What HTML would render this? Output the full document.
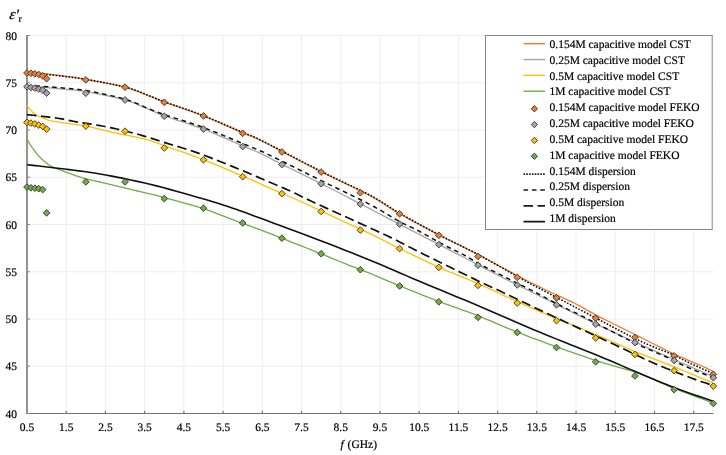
<!DOCTYPE html>
<html><head><meta charset="utf-8"><style>
html,body{margin:0;padding:0;background:#fff;}
body{width:726px;height:455px;overflow:hidden;}
svg{display:block;will-change:transform;}
.t{text-rendering:geometricPrecision;font-family:"Liberation Serif",serif;font-size:11.5px;fill:#000;stroke:#000;stroke-width:0.2px;}
</style></head><body>
<svg width="726" height="455" viewBox="0 0 726 455">
<rect width="726" height="455" fill="#fff"/>
<line x1="27" y1="35.50" x2="713.5" y2="35.50" stroke="#EEEEEE" stroke-width="1"/>
<line x1="27" y1="82.75" x2="713.5" y2="82.75" stroke="#EEEEEE" stroke-width="1"/>
<line x1="27" y1="130.00" x2="713.5" y2="130.00" stroke="#EEEEEE" stroke-width="1"/>
<line x1="27" y1="177.25" x2="713.5" y2="177.25" stroke="#EEEEEE" stroke-width="1"/>
<line x1="27" y1="224.50" x2="713.5" y2="224.50" stroke="#EEEEEE" stroke-width="1"/>
<line x1="27" y1="271.75" x2="713.5" y2="271.75" stroke="#EEEEEE" stroke-width="1"/>
<line x1="27" y1="319.00" x2="713.5" y2="319.00" stroke="#EEEEEE" stroke-width="1"/>
<line x1="27" y1="366.25" x2="713.5" y2="366.25" stroke="#EEEEEE" stroke-width="1"/>
<line x1="66.22" y1="35.5" x2="66.22" y2="413.5" stroke="#EEEEEE" stroke-width="1"/>
<line x1="105.44" y1="35.5" x2="105.44" y2="413.5" stroke="#EEEEEE" stroke-width="1"/>
<line x1="144.66" y1="35.5" x2="144.66" y2="413.5" stroke="#EEEEEE" stroke-width="1"/>
<line x1="183.88" y1="35.5" x2="183.88" y2="413.5" stroke="#EEEEEE" stroke-width="1"/>
<line x1="223.10" y1="35.5" x2="223.10" y2="413.5" stroke="#EEEEEE" stroke-width="1"/>
<line x1="262.32" y1="35.5" x2="262.32" y2="413.5" stroke="#EEEEEE" stroke-width="1"/>
<line x1="301.54" y1="35.5" x2="301.54" y2="413.5" stroke="#EEEEEE" stroke-width="1"/>
<line x1="340.76" y1="35.5" x2="340.76" y2="413.5" stroke="#EEEEEE" stroke-width="1"/>
<line x1="379.98" y1="35.5" x2="379.98" y2="413.5" stroke="#EEEEEE" stroke-width="1"/>
<line x1="419.20" y1="35.5" x2="419.20" y2="413.5" stroke="#EEEEEE" stroke-width="1"/>
<line x1="458.42" y1="35.5" x2="458.42" y2="413.5" stroke="#EEEEEE" stroke-width="1"/>
<line x1="497.64" y1="35.5" x2="497.64" y2="413.5" stroke="#EEEEEE" stroke-width="1"/>
<line x1="536.86" y1="35.5" x2="536.86" y2="413.5" stroke="#EEEEEE" stroke-width="1"/>
<line x1="576.08" y1="35.5" x2="576.08" y2="413.5" stroke="#EEEEEE" stroke-width="1"/>
<line x1="615.30" y1="35.5" x2="615.30" y2="413.5" stroke="#EEEEEE" stroke-width="1"/>
<line x1="654.52" y1="35.5" x2="654.52" y2="413.5" stroke="#EEEEEE" stroke-width="1"/>
<line x1="693.74" y1="35.5" x2="693.74" y2="413.5" stroke="#EEEEEE" stroke-width="1"/>
<rect x="26" y="35" width="2" height="379" fill="#939393"/>
<rect x="26" y="413" width="687.5" height="1" fill="#747474"/>
<line x1="27" y1="35.50" x2="30" y2="35.50" stroke="#8A8A8A" stroke-width="1"/>
<line x1="27" y1="82.75" x2="30" y2="82.75" stroke="#8A8A8A" stroke-width="1"/>
<line x1="27" y1="130.00" x2="30" y2="130.00" stroke="#8A8A8A" stroke-width="1"/>
<line x1="27" y1="177.25" x2="30" y2="177.25" stroke="#8A8A8A" stroke-width="1"/>
<line x1="27" y1="224.50" x2="30" y2="224.50" stroke="#8A8A8A" stroke-width="1"/>
<line x1="27" y1="271.75" x2="30" y2="271.75" stroke="#8A8A8A" stroke-width="1"/>
<line x1="27" y1="319.00" x2="30" y2="319.00" stroke="#8A8A8A" stroke-width="1"/>
<line x1="27" y1="366.25" x2="30" y2="366.25" stroke="#8A8A8A" stroke-width="1"/>
<line x1="27" y1="413.50" x2="30" y2="413.50" stroke="#8A8A8A" stroke-width="1"/>
<line x1="66.22" y1="410.8" x2="66.22" y2="413" stroke="#7A7A7A" stroke-width="1.2"/>
<line x1="105.44" y1="410.8" x2="105.44" y2="413" stroke="#7A7A7A" stroke-width="1.2"/>
<line x1="144.66" y1="410.8" x2="144.66" y2="413" stroke="#7A7A7A" stroke-width="1.2"/>
<line x1="183.88" y1="410.8" x2="183.88" y2="413" stroke="#7A7A7A" stroke-width="1.2"/>
<line x1="223.10" y1="410.8" x2="223.10" y2="413" stroke="#7A7A7A" stroke-width="1.2"/>
<line x1="262.32" y1="410.8" x2="262.32" y2="413" stroke="#7A7A7A" stroke-width="1.2"/>
<line x1="301.54" y1="410.8" x2="301.54" y2="413" stroke="#7A7A7A" stroke-width="1.2"/>
<line x1="340.76" y1="410.8" x2="340.76" y2="413" stroke="#7A7A7A" stroke-width="1.2"/>
<line x1="379.98" y1="410.8" x2="379.98" y2="413" stroke="#7A7A7A" stroke-width="1.2"/>
<line x1="419.20" y1="410.8" x2="419.20" y2="413" stroke="#7A7A7A" stroke-width="1.2"/>
<line x1="458.42" y1="410.8" x2="458.42" y2="413" stroke="#7A7A7A" stroke-width="1.2"/>
<line x1="497.64" y1="410.8" x2="497.64" y2="413" stroke="#7A7A7A" stroke-width="1.2"/>
<line x1="536.86" y1="410.8" x2="536.86" y2="413" stroke="#7A7A7A" stroke-width="1.2"/>
<line x1="576.08" y1="410.8" x2="576.08" y2="413" stroke="#7A7A7A" stroke-width="1.2"/>
<line x1="615.30" y1="410.8" x2="615.30" y2="413" stroke="#7A7A7A" stroke-width="1.2"/>
<line x1="654.52" y1="410.8" x2="654.52" y2="413" stroke="#7A7A7A" stroke-width="1.2"/>
<line x1="693.74" y1="410.8" x2="693.74" y2="413" stroke="#7A7A7A" stroke-width="1.2"/>
<path d="M27.00,73.00 L28.58,73.02 L30.09,73.03 L31.57,73.03 L33.06,73.03 L34.61,73.05 L36.26,73.09 L38.04,73.17 L40.00,73.30 L42.12,73.47 L44.37,73.67 L46.72,73.91 L49.19,74.17 L51.75,74.46 L54.41,74.78 L57.17,75.13 L60.00,75.50 L62.87,75.89 L65.77,76.28 L68.74,76.70 L71.81,77.15 L75.03,77.64 L78.45,78.19 L82.09,78.81 L86.00,79.50 L90.35,80.28 L95.16,81.15 L100.29,82.09 L105.56,83.09 L110.83,84.12 L115.93,85.18 L120.71,86.24 L125.00,87.30 L128.87,88.39 L132.49,89.54 L135.88,90.73 L139.06,91.93 L142.05,93.11 L144.85,94.25 L147.50,95.32 L150.00,96.30 L152.11,97.12 L153.69,97.77 L154.96,98.32 L156.12,98.85 L157.40,99.41 L159.00,100.08 L161.13,100.92 L164.00,102.00 L167.67,103.31 L171.97,104.80 L176.75,106.43 L181.88,108.18 L187.20,110.02 L192.59,111.92 L197.91,113.86 L203.00,115.80 L208.11,117.86 L213.47,120.10 L218.94,122.44 L224.38,124.81 L229.64,127.13 L234.59,129.32 L239.09,131.31 L243.00,133.00 L246.19,134.35 L248.75,135.41 L250.84,136.25 L252.62,136.97 L254.27,137.64 L255.94,138.35 L257.79,139.17 L260.00,140.20 L262.39,141.35 L264.75,142.53 L267.14,143.74 L269.62,145.03 L272.29,146.42 L275.19,147.95 L278.40,149.63 L282.00,151.50 L285.99,153.58 L290.32,155.86 L294.94,158.30 L299.81,160.86 L304.90,163.53 L310.15,166.26 L315.53,169.03 L321.00,171.80 L326.78,174.66 L333.02,177.66 L339.52,180.77 L346.12,183.91 L352.65,187.03 L358.92,190.07 L364.76,192.98 L370.00,195.70 L374.51,198.19 L378.40,200.49 L381.86,202.66 L385.06,204.75 L388.20,206.82 L391.45,208.93 L394.99,211.14 L399.00,213.50 L403.48,216.02 L408.25,218.66 L413.24,221.38 L418.38,224.14 L423.59,226.92 L428.81,229.68 L433.97,232.38 L439.00,235.00 L443.92,237.52 L448.82,239.98 L453.70,242.39 L458.56,244.78 L463.42,247.17 L468.27,249.57 L473.13,252.00 L478.00,254.50 L482.94,257.10 L487.98,259.80 L493.06,262.55 L498.12,265.31 L503.11,268.04 L507.95,270.67 L512.60,273.18 L517.00,275.50 L521.10,277.63 L524.95,279.61 L528.61,281.46 L532.12,283.22 L535.56,284.92 L538.98,286.60 L542.44,288.28 L546.00,290.00 L549.68,291.75 L553.44,293.49 L557.23,295.22 L561.00,296.94 L564.71,298.63 L568.31,300.29 L571.76,301.92 L575.00,303.50 L577.88,304.98 L580.39,306.33 L582.67,307.61 L584.88,308.88 L587.16,310.19 L589.67,311.61 L592.57,313.19 L596.00,315.00 L600.02,317.06 L604.51,319.32 L609.35,321.75 L614.44,324.28 L619.66,326.87 L624.90,329.47 L630.05,332.03 L635.00,334.50 L639.87,336.95 L644.83,339.46 L649.81,341.98 L654.75,344.49 L659.60,346.93 L664.30,349.28 L668.78,351.48 L673.00,353.50 L677.00,355.35 L680.85,357.07 L684.55,358.66 L688.06,360.15 L691.38,361.54 L694.49,362.83 L697.37,364.05 L700.00,365.20 L702.29,366.24 L704.23,367.14 L705.90,367.93 L707.38,368.64 L708.74,369.32 L710.08,369.98 L711.47,370.66 L713.00,371.40" fill="none" stroke="#ED7D31" stroke-width="1.3" stroke-linejoin="round"/>
<path d="M27.00,86.00 L28.58,86.12 L30.09,86.23 L31.57,86.34 L33.06,86.45 L34.61,86.57 L36.26,86.69 L38.04,86.84 L40.00,87.00 L42.12,87.18 L44.37,87.37 L46.72,87.57 L49.19,87.79 L51.75,88.02 L54.41,88.26 L57.17,88.52 L60.00,88.80 L62.87,89.06 L65.77,89.30 L68.74,89.53 L71.81,89.79 L75.03,90.10 L78.45,90.48 L82.09,90.98 L86.00,91.60 L90.35,92.37 L95.16,93.27 L100.29,94.28 L105.56,95.36 L110.83,96.50 L115.93,97.67 L120.71,98.84 L125.00,100.00 L128.87,101.18 L132.49,102.44 L135.88,103.74 L139.06,105.05 L142.05,106.34 L144.85,107.58 L147.50,108.75 L150.00,109.80 L152.11,110.68 L153.69,111.40 L154.96,112.01 L156.12,112.59 L157.40,113.19 L159.00,113.88 L161.13,114.73 L164.00,115.80 L167.67,117.08 L171.97,118.50 L176.75,120.06 L181.88,121.71 L187.20,123.46 L192.59,125.26 L197.91,127.12 L203.00,129.00 L208.11,131.01 L213.47,133.21 L218.94,135.53 L224.38,137.88 L229.64,140.18 L234.59,142.36 L239.09,144.32 L243.00,146.00 L246.19,147.33 L248.75,148.38 L250.84,149.21 L252.62,149.91 L254.27,150.57 L255.94,151.27 L257.79,152.08 L260.00,153.10 L262.39,154.25 L264.75,155.42 L267.14,156.64 L269.62,157.94 L272.29,159.33 L275.19,160.83 L278.40,162.48 L282.00,164.30 L286.06,166.32 L290.55,168.54 L295.38,170.91 L300.44,173.40 L305.63,175.96 L310.85,178.54 L316.01,181.10 L321.00,183.60 L325.88,186.06 L330.75,188.54 L335.62,191.03 L340.50,193.53 L345.38,196.04 L350.25,198.56 L355.12,201.08 L360.00,203.60 L364.87,206.13 L369.73,208.67 L374.58,211.22 L379.44,213.77 L384.30,216.33 L389.18,218.88 L394.08,221.44 L399.00,224.00 L403.96,226.56 L408.95,229.12 L413.97,231.69 L419.00,234.26 L424.03,236.82 L429.05,239.39 L434.04,241.95 L439.00,244.50 L443.92,247.05 L448.82,249.60 L453.70,252.14 L458.56,254.68 L463.42,257.22 L468.27,259.75 L473.13,262.28 L478.00,264.80 L482.87,267.32 L487.73,269.83 L492.58,272.33 L497.44,274.83 L502.30,277.33 L507.18,279.82 L512.08,282.31 L517.00,284.80 L521.96,287.29 L526.95,289.77 L531.97,292.26 L537.00,294.74 L542.03,297.21 L547.05,299.68 L552.04,302.15 L557.00,304.60 L561.92,307.05 L566.82,309.51 L571.70,311.97 L576.56,314.41 L581.42,316.85 L586.27,319.26 L591.13,321.64 L596.00,324.00 L600.88,326.32 L605.75,328.61 L610.62,330.87 L615.50,333.12 L620.38,335.35 L625.25,337.57 L630.12,339.78 L635.00,342.00 L639.88,344.21 L644.75,346.42 L649.62,348.62 L654.50,350.81 L659.38,353.00 L664.25,355.17 L669.12,357.34 L674.00,359.50 L678.88,361.65 L683.75,363.79 L688.62,365.91 L693.50,368.03 L698.38,370.15 L703.25,372.26 L708.12,374.38 L713.00,376.50" fill="none" stroke="#A5A5A5" stroke-width="1.3" stroke-linejoin="round"/>
<path d="M27.00,105.50 L27.49,106.13 L27.96,106.76 L28.43,107.40 L28.91,108.03 L29.39,108.66 L29.89,109.29 L30.43,109.90 L31.00,110.50 L31.60,111.09 L32.20,111.68 L32.82,112.25 L33.47,112.83 L34.15,113.39 L34.88,113.94 L35.66,114.47 L36.50,115.00 L37.42,115.52 L38.43,116.03 L39.49,116.54 L40.59,117.03 L41.72,117.51 L42.84,117.96 L43.94,118.40 L45.00,118.80 L45.93,119.16 L46.71,119.48 L47.42,119.77 L48.16,120.04 L49.00,120.30 L50.03,120.58 L51.33,120.87 L53.00,121.20 L55.16,121.57 L57.77,121.98 L60.71,122.41 L63.81,122.85 L66.94,123.28 L69.95,123.69 L72.68,124.07 L75.00,124.40 L76.88,124.66 L78.45,124.87 L79.80,125.04 L81.00,125.19 L82.14,125.35 L83.30,125.52 L84.56,125.73 L86.00,126.00 L87.57,126.32 L89.15,126.67 L90.77,127.05 L92.44,127.46 L94.18,127.89 L96.01,128.34 L97.94,128.81 L100.00,129.30 L102.18,129.82 L104.46,130.37 L106.84,130.94 L109.31,131.54 L111.87,132.15 L114.51,132.76 L117.22,133.38 L120.00,134.00 L122.89,134.59 L125.90,135.16 L129.01,135.73 L132.19,136.31 L135.41,136.91 L138.63,137.57 L141.84,138.29 L145.00,139.10 L148.07,139.99 L151.06,140.93 L154.02,141.93 L157.00,142.98 L160.04,144.09 L163.19,145.24 L166.49,146.45 L170.00,147.70 L173.69,148.99 L177.52,150.31 L181.48,151.67 L185.56,153.09 L189.76,154.57 L194.07,156.12 L198.49,157.76 L203.00,159.50 L207.82,161.43 L213.05,163.57 L218.50,165.85 L224.00,168.18 L229.38,170.47 L234.45,172.64 L239.05,174.62 L243.00,176.30 L246.19,177.66 L248.75,178.76 L250.84,179.66 L252.62,180.44 L254.27,181.17 L255.94,181.91 L257.79,182.73 L260.00,183.70 L262.48,184.79 L265.05,185.93 L267.71,187.10 L270.44,188.31 L273.24,189.54 L276.10,190.81 L279.02,192.10 L282.00,193.40 L285.15,194.77 L288.52,196.23 L292.03,197.74 L295.56,199.26 L299.03,200.76 L302.32,202.19 L305.34,203.52 L308.00,204.70 L310.00,205.61 L311.32,206.24 L312.25,206.71 L313.06,207.14 L314.06,207.66 L315.52,208.39 L317.74,209.46 L321.00,211.00 L325.54,213.11 L331.19,215.71 L337.62,218.67 L344.50,221.83 L351.51,225.06 L358.31,228.21 L364.59,231.14 L370.00,233.70 L374.51,235.88 L378.40,237.82 L381.86,239.57 L385.06,241.23 L388.20,242.86 L391.45,244.53 L394.99,246.32 L399.00,248.30 L403.47,250.48 L408.20,252.78 L413.15,255.18 L418.25,257.64 L423.44,260.11 L428.67,262.57 L433.88,264.98 L439.00,267.30 L444.10,269.54 L449.27,271.73 L454.48,273.89 L459.69,276.03 L464.87,278.14 L470.01,280.26 L475.06,282.37 L480.00,284.50 L484.80,286.63 L489.46,288.76 L494.04,290.88 L498.56,292.99 L503.08,295.11 L507.63,297.23 L512.26,299.36 L517.00,301.50 L521.84,303.65 L526.72,305.80 L531.65,307.96 L536.62,310.12 L541.65,312.28 L546.72,314.45 L551.84,316.63 L557.00,318.80 L562.29,320.99 L567.73,323.21 L573.26,325.45 L578.81,327.68 L584.33,329.90 L589.74,332.08 L594.99,334.22 L600.00,336.30 L604.74,338.31 L609.24,340.27 L613.58,342.18 L617.81,344.06 L622.01,345.92 L626.23,347.77 L630.54,349.63 L635.00,351.50 L639.59,353.37 L644.24,355.21 L648.94,357.03 L653.69,358.86 L658.47,360.70 L663.29,362.56 L668.13,364.46 L673.00,366.40 L677.90,368.39 L682.86,370.43 L687.85,372.50 L692.88,374.59 L697.91,376.70 L702.95,378.81 L707.99,380.91 L713.00,383.00" fill="none" stroke="#FFC000" stroke-width="1.3" stroke-linejoin="round"/>
<path d="M27.00,138.80 L27.33,139.43 L27.66,140.05 L27.99,140.68 L28.31,141.31 L28.64,141.93 L28.98,142.56 L29.33,143.18 L29.70,143.80 L30.08,144.42 L30.48,145.04 L30.89,145.67 L31.31,146.29 L31.74,146.90 L32.16,147.51 L32.58,148.11 L33.00,148.70 L33.41,149.28 L33.83,149.85 L34.24,150.41 L34.65,150.96 L35.06,151.51 L35.48,152.05 L35.89,152.58 L36.30,153.10 L36.70,153.61 L37.10,154.11 L37.49,154.60 L37.88,155.08 L38.28,155.56 L38.70,156.04 L39.13,156.52 L39.60,157.00 L40.09,157.48 L40.60,157.96 L41.12,158.44 L41.66,158.92 L42.22,159.40 L42.80,159.89 L43.39,160.39 L44.00,160.90 L44.63,161.44 L45.30,162.00 L45.98,162.59 L46.67,163.18 L47.38,163.75 L48.09,164.31 L48.80,164.83 L49.50,165.30 L50.20,165.72 L50.90,166.11 L51.60,166.46 L52.30,166.79 L53.00,167.10 L53.70,167.40 L54.40,167.70 L55.10,168.00 L55.79,168.30 L56.48,168.59 L57.17,168.87 L57.86,169.15 L58.54,169.42 L59.23,169.68 L59.91,169.94 L60.60,170.20 L61.29,170.45 L61.98,170.69 L62.66,170.93 L63.35,171.16 L64.04,171.39 L64.72,171.62 L65.41,171.86 L66.10,172.10 L66.79,172.35 L67.47,172.59 L68.16,172.84 L68.85,173.09 L69.54,173.35 L70.22,173.60 L70.91,173.85 L71.60,174.10 L72.26,174.35 L72.90,174.58 L73.52,174.82 L74.14,175.06 L74.80,175.30 L75.49,175.55 L76.25,175.82 L77.10,176.10 L78.01,176.40 L78.94,176.71 L79.93,177.04 L80.96,177.38 L82.07,177.72 L83.25,178.07 L84.52,178.43 L85.90,178.80 L87.37,179.17 L88.91,179.53 L90.54,179.89 L92.25,180.27 L94.05,180.66 L95.94,181.08 L97.92,181.52 L100.00,182.00 L102.22,182.52 L104.59,183.09 L107.07,183.68 L109.63,184.30 L112.24,184.93 L114.86,185.56 L117.46,186.19 L120.00,186.80 L122.50,187.40 L125.00,188.00 L127.50,188.60 L130.00,189.20 L132.50,189.80 L135.00,190.40 L137.50,191.00 L140.00,191.60 L142.34,192.15 L144.46,192.63 L146.49,193.08 L148.56,193.54 L150.82,194.07 L153.38,194.69 L156.40,195.45 L160.00,196.40 L164.45,197.60 L169.72,199.04 L175.54,200.64 L181.62,202.33 L187.70,204.04 L193.47,205.68 L198.66,207.20 L203.00,208.50 L206.42,209.58 L209.16,210.52 L211.41,211.34 L213.31,212.09 L215.06,212.81 L216.80,213.54 L218.73,214.32 L221.00,215.20 L223.59,216.18 L226.34,217.21 L229.18,218.29 L232.06,219.38 L234.94,220.47 L237.76,221.54 L240.46,222.55 L243.00,223.50 L245.33,224.36 L247.48,225.14 L249.52,225.87 L251.50,226.58 L253.48,227.29 L255.52,228.03 L257.67,228.82 L260.00,229.70 L262.39,230.61 L264.75,231.52 L267.14,232.45 L269.62,233.42 L272.29,234.46 L275.19,235.61 L278.40,236.88 L282.00,238.30 L286.15,239.94 L290.85,241.80 L295.92,243.81 L301.21,245.91 L306.54,248.02 L311.72,250.09 L316.60,252.04 L321.00,253.80 L324.95,255.40 L328.62,256.90 L332.07,258.32 L335.34,259.68 L338.48,260.98 L341.54,262.24 L344.56,263.47 L347.60,264.70 L350.56,265.87 L353.34,266.95 L356.02,267.97 L358.65,268.97 L361.30,269.98 L364.03,271.03 L366.91,272.16 L370.00,273.40 L373.23,274.73 L376.53,276.12 L379.91,277.56 L383.40,279.05 L387.03,280.60 L390.82,282.21 L394.80,283.87 L399.00,285.60 L403.49,287.43 L408.30,289.37 L413.33,291.40 L418.50,293.47 L423.74,295.55 L428.95,297.61 L434.07,299.60 L439.00,301.50 L443.74,303.28 L448.37,304.96 L452.92,306.58 L457.44,308.18 L461.96,309.79 L466.54,311.44 L471.20,313.16 L476.00,315.00 L480.94,316.97 L485.99,319.05 L491.13,321.21 L496.31,323.41 L501.52,325.62 L506.73,327.81 L511.90,329.95 L517.00,332.00 L522.03,333.97 L527.00,335.90 L531.94,337.78 L536.88,339.64 L541.82,341.48 L546.81,343.31 L551.86,345.15 L557.00,347.00 L562.25,348.88 L567.61,350.78 L573.04,352.69 L578.50,354.59 L583.96,356.46 L589.39,358.30 L594.75,360.09 L600.00,361.80 L605.19,363.42 L610.38,364.95 L615.53,366.41 L620.62,367.84 L625.64,369.27 L630.56,370.72 L635.36,372.22 L640.00,373.80 L644.41,375.46 L648.58,377.15 L652.58,378.89 L656.50,380.66 L660.42,382.45 L664.42,384.26 L668.59,386.08 L673.00,387.90 L677.67,389.74 L682.51,391.60 L687.49,393.49 L692.56,395.39 L697.69,397.29 L702.84,399.20 L707.95,401.11 L713.00,403.00" fill="none" stroke="#70AD47" stroke-width="1.3" stroke-linejoin="round"/>
<path d="M27.00,164.70 L31.08,165.16 L35.09,165.61 L39.07,166.05 L43.06,166.49 L47.11,166.95 L51.26,167.43 L55.54,167.94 L60.00,168.50 L64.60,169.07 L69.27,169.64 L74.05,170.23 L78.94,170.84 L83.96,171.51 L89.13,172.25 L94.47,173.07 L100.00,174.00 L105.77,175.03 L111.80,176.16 L118.02,177.36 L124.38,178.64 L130.81,179.98 L137.27,181.37 L143.68,182.82 L150.00,184.30 L156.39,185.88 L162.97,187.59 L169.63,189.39 L176.25,191.22 L182.71,193.04 L188.91,194.81 L194.71,196.48 L200.00,198.00 L204.71,199.35 L208.91,200.58 L212.71,201.70 L216.25,202.78 L219.63,203.82 L222.97,204.89 L226.39,206.00 L230.00,207.20 L233.54,208.40 L236.80,209.54 L239.93,210.66 L243.12,211.82 L246.55,213.10 L250.39,214.53 L254.81,216.18 L260.00,218.10 L266.13,220.37 L273.12,222.95 L280.74,225.78 L288.75,228.75 L296.91,231.79 L305.00,234.82 L312.77,237.75 L320.00,240.50 L326.73,243.08 L333.20,245.58 L339.48,248.01 L345.62,250.42 L351.69,252.81 L357.73,255.23 L363.82,257.68 L370.00,260.20 L376.18,262.76 L382.27,265.33 L388.31,267.91 L394.38,270.52 L400.52,273.17 L406.80,275.88 L413.27,278.65 L420.00,281.50 L427.02,284.44 L434.30,287.47 L441.77,290.57 L449.38,293.72 L457.06,296.90 L464.77,300.11 L472.43,303.31 L480.00,306.50 L487.50,309.70 L495.00,312.93 L502.50,316.19 L510.00,319.45 L517.50,322.71 L525.00,325.94 L532.50,329.15 L540.00,332.30 L547.64,335.45 L555.47,338.63 L563.38,341.81 L571.25,344.95 L578.96,348.02 L586.41,350.99 L593.46,353.83 L600.00,356.50 L606.00,358.99 L611.55,361.33 L616.73,363.53 L621.62,365.64 L626.32,367.66 L630.89,369.63 L635.42,371.57 L640.00,373.50 L644.50,375.39 L648.80,377.22 L652.97,378.98 L657.06,380.70 L661.15,382.40 L665.29,384.08 L669.55,385.78 L674.00,387.50 L678.64,389.23 L683.40,390.96 L688.26,392.69 L693.19,394.41 L698.16,396.13 L703.13,397.85 L708.09,399.58 L713.00,401.30" fill="none" stroke="#111" stroke-width="1.6"/>
<path d="M27.00,114.70 L28.58,114.85 L30.09,114.99 L31.57,115.13 L33.06,115.27 L34.61,115.42 L36.26,115.58 L38.04,115.78 L40.00,116.00 L42.20,116.26 L44.62,116.55 L47.21,116.86 L49.88,117.19 L52.56,117.54 L55.19,117.89 L57.69,118.25 L60.00,118.60 L62.14,118.96 L64.20,119.35 L66.17,119.75 L68.06,120.16 L69.89,120.55 L71.65,120.93 L73.35,121.28 L75.00,121.60 L76.53,121.87 L77.91,122.09 L79.20,122.29 L80.44,122.47 L81.68,122.65 L82.99,122.84 L84.41,123.05 L86.00,123.30 L87.81,123.60 L89.80,123.92 L91.92,124.27 L94.09,124.64 L96.26,125.00 L98.34,125.36 L100.28,125.69 L102.00,126.00 L103.49,126.27 L104.80,126.52 L105.97,126.74 L107.06,126.96 L108.11,127.18 L109.17,127.40 L110.29,127.64 L111.50,127.90 L112.77,128.17 L114.04,128.45 L115.32,128.73 L116.62,129.03 L117.98,129.33 L119.40,129.66 L120.90,130.02 L122.50,130.40 L124.23,130.82 L126.10,131.27 L128.06,131.75 L130.08,132.25 L132.12,132.76 L134.15,133.28 L136.12,133.79 L138.00,134.30 L139.80,134.80 L141.57,135.31 L143.30,135.82 L145.00,136.33 L146.69,136.85 L148.36,137.36 L150.03,137.88 L151.70,138.40 L153.22,138.87 L154.51,139.28 L155.70,139.67 L156.93,140.07 L158.32,140.52 L160.01,141.07 L162.13,141.75 L164.80,142.60 L168.05,143.61 L171.77,144.73 L175.88,145.95 L180.31,147.29 L184.97,148.72 L189.79,150.25 L194.69,151.88 L199.60,153.60 L204.75,155.50 L210.33,157.64 L216.15,159.93 L222.06,162.28 L227.86,164.63 L233.40,166.88 L238.51,168.97 L243.00,170.80 L246.82,172.37 L250.10,173.74 L252.97,174.96 L255.56,176.08 L257.99,177.15 L260.41,178.21 L262.94,179.31 L265.70,180.50 L268.64,181.75 L271.61,183.00 L274.61,184.25 L277.62,185.51 L280.66,186.79 L283.70,188.10 L286.75,189.43 L289.80,190.80 L292.65,192.12 L295.21,193.35 L297.67,194.56 L300.19,195.82 L302.96,197.19 L306.15,198.75 L309.93,200.57 L314.50,202.70 L320.16,205.30 L326.89,208.36 L334.34,211.74 L342.14,215.27 L349.97,218.80 L357.45,222.19 L364.24,225.27 L370.00,227.90 L374.68,230.05 L378.62,231.86 L381.98,233.41 L384.94,234.79 L387.69,236.09 L390.40,237.38 L393.24,238.76 L396.40,240.30 L399.60,241.89 L402.55,243.39 L405.41,244.88 L408.35,246.41 L411.52,248.06 L415.07,249.90 L419.18,251.99 L424.00,254.40 L429.88,257.31 L436.81,260.72 L444.44,264.47 L452.38,268.36 L460.28,272.22 L467.76,275.87 L474.46,279.12 L480.00,281.80 L484.19,283.80 L487.29,285.25 L489.62,286.32 L491.53,287.16 L493.34,287.96 L495.39,288.87 L498.00,290.06 L501.50,291.70 L505.89,293.79 L510.85,296.16 L516.25,298.75 L521.94,301.49 L527.80,304.31 L533.69,307.13 L539.46,309.88 L545.00,312.50 L550.49,315.07 L556.14,317.70 L561.85,320.34 L567.51,322.95 L573.00,325.48 L578.22,327.88 L583.05,330.10 L587.40,332.10 L591.03,333.77 L593.97,335.12 L596.44,336.24 L598.67,337.26 L600.92,338.29 L603.39,339.43 L606.34,340.79 L610.00,342.50 L614.42,344.59 L619.41,346.99 L624.82,349.59 L630.49,352.32 L636.27,355.09 L642.02,357.80 L647.58,360.37 L652.80,362.70 L657.82,364.85 L662.83,366.94 L667.78,368.94 L672.64,370.86 L677.34,372.69 L681.83,374.40 L686.07,376.01 L690.00,377.50 L693.55,378.83 L696.75,379.98 L699.67,381.00 L702.39,381.93 L705.00,382.80 L707.58,383.66 L710.22,384.55 L713.00,385.50" fill="none" stroke="#111" stroke-width="1.7" stroke-dasharray="9.5,4.5"/>
<path d="M27.00,86.00 L28.58,86.02 L30.09,86.02 L31.57,86.01 L33.06,86.01 L34.61,86.02 L36.26,86.05 L38.04,86.11 L40.00,86.20 L42.12,86.32 L44.37,86.47 L46.72,86.64 L49.19,86.84 L51.75,87.05 L54.41,87.28 L57.17,87.53 L60.00,87.80 L62.87,88.05 L65.77,88.28 L68.74,88.51 L71.81,88.76 L75.03,89.07 L78.45,89.46 L82.09,89.96 L86.00,90.60 L90.35,91.39 L95.16,92.31 L100.29,93.33 L105.56,94.44 L110.83,95.61 L115.93,96.81 L120.71,98.01 L125.00,99.20 L128.87,100.42 L132.49,101.73 L135.88,103.09 L139.06,104.46 L142.05,105.81 L144.85,107.08 L147.50,108.26 L150.00,109.30 L152.11,110.13 L153.69,110.76 L154.96,111.27 L156.12,111.72 L157.40,112.20 L159.00,112.77 L161.13,113.52 L164.00,114.50 L167.67,115.72 L171.97,117.11 L176.75,118.63 L181.88,120.26 L187.20,121.98 L192.59,123.76 L197.91,125.58 L203.00,127.40 L208.11,129.33 L213.47,131.43 L218.94,133.63 L224.38,135.86 L229.64,138.05 L234.59,140.11 L239.09,141.99 L243.00,143.60 L246.27,144.94 L249.03,146.07 L251.37,147.04 L253.38,147.87 L255.15,148.62 L256.78,149.31 L258.37,149.99 L260.00,150.70 L261.30,151.25 L262.03,151.54 L262.46,151.70 L262.88,151.87 L263.55,152.18 L264.78,152.76 L266.84,153.76 L270.00,155.30 L274.43,157.47 L279.91,160.18 L286.21,163.29 L293.06,166.69 L300.22,170.23 L307.43,173.80 L314.44,177.27 L321.00,180.50 L327.36,183.61 L333.86,186.76 L340.40,189.91 L346.88,193.03 L353.18,196.09 L359.20,199.04 L364.85,201.86 L370.00,204.50 L374.66,206.99 L378.94,209.38 L382.87,211.66 L386.50,213.83 L389.88,215.87 L393.06,217.78 L396.09,219.56 L399.00,221.20 L401.71,222.65 L404.12,223.88 L406.30,224.94 L408.31,225.90 L410.23,226.79 L412.10,227.67 L414.00,228.59 L416.00,229.60 L418.06,230.68 L420.12,231.78 L422.16,232.88 L424.19,233.99 L426.19,235.10 L428.16,236.19 L430.10,237.26 L432.00,238.30 L433.82,239.30 L435.56,240.27 L437.25,241.22 L438.91,242.15 L440.59,243.08 L442.31,244.03 L444.10,245.00 L446.00,246.00 L447.98,247.02 L450.01,248.02 L452.09,249.03 L454.23,250.06 L456.42,251.13 L458.68,252.25 L461.00,253.43 L463.40,254.70 L465.77,256.01 L468.07,257.34 L470.38,258.71 L472.79,260.14 L475.37,261.67 L478.21,263.30 L481.39,265.07 L485.00,267.00 L489.13,269.13 L493.74,271.45 L498.72,273.93 L503.94,276.51 L509.30,279.15 L514.67,281.81 L519.95,284.44 L525.00,287.00 L530.04,289.60 L535.26,292.33 L540.54,295.11 L545.75,297.88 L550.78,300.54 L555.49,303.03 L559.77,305.28 L563.50,307.20 L566.48,308.70 L568.74,309.80 L570.51,310.62 L572.00,311.28 L573.43,311.91 L575.01,312.63 L576.96,313.55 L579.50,314.80 L582.62,316.38 L586.12,318.17 L589.90,320.12 L593.88,322.19 L597.96,324.31 L602.07,326.43 L606.11,328.52 L610.00,330.50 L613.81,332.44 L617.65,334.39 L621.49,336.35 L625.32,338.29 L629.12,340.20 L632.84,342.05 L636.48,343.82 L640.00,345.50 L643.45,347.09 L646.89,348.61 L650.26,350.06 L653.56,351.46 L656.74,352.79 L659.77,354.08 L662.64,355.31 L665.30,356.50 L667.70,357.62 L669.84,358.67 L671.79,359.65 L673.60,360.59 L675.34,361.49 L677.08,362.39 L678.88,363.28 L680.80,364.20 L682.82,365.13 L684.87,366.06 L686.95,366.98 L689.04,367.89 L691.13,368.80 L693.21,369.68 L695.27,370.55 L697.30,371.40 L699.30,372.22 L701.28,373.02 L703.25,373.80 L705.20,374.56 L707.15,375.32 L709.09,376.07 L711.04,376.83 L713.00,377.60" fill="none" stroke="#111" stroke-width="1.5" stroke-dasharray="4.6,3.8"/>
<path d="M27.00,73.20 L29.51,73.36 L32.02,73.51 L34.54,73.65 L37.06,73.80 L39.57,73.95 L42.07,74.12 L44.55,74.30 L47.00,74.50 L49.42,74.72 L51.80,74.95 L54.15,75.20 L56.50,75.46 L58.85,75.73 L61.20,76.01 L63.58,76.30 L66.00,76.60 L68.32,76.87 L70.48,77.12 L72.59,77.35 L74.75,77.60 L77.06,77.89 L79.64,78.26 L82.58,78.72 L86.00,79.30 L90.06,80.01 L94.74,80.84 L99.85,81.76 L105.19,82.76 L110.57,83.80 L115.79,84.87 L120.67,85.94 L125.00,87.00 L128.87,88.09 L132.49,89.24 L135.88,90.43 L139.06,91.63 L142.05,92.82 L144.85,93.96 L147.50,95.03 L150.00,96.00 L152.11,96.81 L153.69,97.44 L154.96,97.98 L156.12,98.49 L157.40,99.04 L159.00,99.70 L161.13,100.53 L164.00,101.60 L167.67,102.92 L171.97,104.42 L176.75,106.07 L181.88,107.84 L187.20,109.70 L192.59,111.61 L197.91,113.56 L203.00,115.50 L208.11,117.54 L213.47,119.76 L218.94,122.08 L224.38,124.42 L229.64,126.71 L234.59,128.87 L239.09,130.82 L243.00,132.50 L245.92,133.70 L247.84,134.42 L249.13,134.85 L250.19,135.19 L251.41,135.64 L253.20,136.41 L255.93,137.70 L260.00,139.70 L265.60,142.54 L272.44,146.06 L280.18,150.10 L288.50,154.46 L297.07,158.94 L305.56,163.37 L313.65,167.55 L321.00,171.30 L327.84,174.70 L334.56,177.96 L341.13,181.10 L347.50,184.12 L353.62,187.04 L359.44,189.85 L364.91,192.57 L370.00,195.20 L374.51,197.67 L378.40,199.94 L381.86,202.07 L385.06,204.12 L388.20,206.15 L391.45,208.24 L394.99,210.43 L399.00,212.80 L403.47,215.35 L408.20,218.02 L413.15,220.78 L418.25,223.61 L423.44,226.45 L428.67,229.29 L433.88,232.08 L439.00,234.80 L444.06,237.42 L449.13,239.98 L454.20,242.50 L459.29,245.00 L464.41,247.52 L469.56,250.10 L474.76,252.74 L480.00,255.50 L485.40,258.43 L490.98,261.55 L496.67,264.77 L502.36,268.02 L507.96,271.23 L513.38,274.33 L518.52,277.25 L523.30,279.90 L527.61,282.24 L531.50,284.32 L535.09,286.21 L538.51,287.99 L541.89,289.74 L545.35,291.52 L549.01,293.41 L553.00,295.50 L557.23,297.73 L561.55,300.00 L565.98,302.33 L570.53,304.72 L575.24,307.20 L580.12,309.76 L585.20,312.43 L590.50,315.20 L596.21,318.20 L602.37,321.47 L608.84,324.90 L615.42,328.39 L621.97,331.83 L628.31,335.11 L634.28,338.14 L639.70,340.80 L644.65,343.10 L649.32,345.15 L653.72,346.97 L657.86,348.63 L661.75,350.14 L665.40,351.57 L668.81,352.94 L672.00,354.30 L674.81,355.58 L677.16,356.70 L679.19,357.71 L681.02,358.66 L682.78,359.59 L684.62,360.54 L686.64,361.57 L689.00,362.70 L691.67,363.94 L694.51,365.25 L697.49,366.60 L700.56,367.99 L703.69,369.40 L706.84,370.82 L709.95,372.22 L713.00,373.60" fill="none" stroke="#111" stroke-width="1.6" stroke-dasharray="1.6,1.6"/>
<path d="M27.00,69.65 L30.35,73.00 L27.00,76.35 L23.65,73.00 Z" fill="#ED7D31" stroke="#333" stroke-width="0.9"/>
<path d="M30.92,69.95 L34.27,73.30 L30.92,76.65 L27.57,73.30 Z" fill="#ED7D31" stroke="#333" stroke-width="0.9"/>
<path d="M34.84,70.45 L38.19,73.80 L34.84,77.15 L31.49,73.80 Z" fill="#ED7D31" stroke="#333" stroke-width="0.9"/>
<path d="M38.77,71.15 L42.12,74.50 L38.77,77.85 L35.42,74.50 Z" fill="#ED7D31" stroke="#333" stroke-width="0.9"/>
<path d="M42.69,72.45 L46.04,75.80 L42.69,79.15 L39.34,75.80 Z" fill="#ED7D31" stroke="#333" stroke-width="0.9"/>
<path d="M46.61,75.35 L49.96,78.70 L46.61,82.05 L43.26,78.70 Z" fill="#ED7D31" stroke="#333" stroke-width="0.9"/>
<path d="M85.83,76.55 L89.18,79.90 L85.83,83.25 L82.48,79.90 Z" fill="#ED7D31" stroke="#333" stroke-width="0.9"/>
<path d="M125.05,83.85 L128.40,87.20 L125.05,90.55 L121.70,87.20 Z" fill="#ED7D31" stroke="#333" stroke-width="0.9"/>
<path d="M164.27,98.95 L167.62,102.30 L164.27,105.65 L160.92,102.30 Z" fill="#ED7D31" stroke="#333" stroke-width="0.9"/>
<path d="M203.49,112.55 L206.84,115.90 L203.49,119.25 L200.14,115.90 Z" fill="#ED7D31" stroke="#333" stroke-width="0.9"/>
<path d="M242.71,129.95 L246.06,133.30 L242.71,136.65 L239.36,133.30 Z" fill="#ED7D31" stroke="#333" stroke-width="0.9"/>
<path d="M281.93,148.65 L285.28,152.00 L281.93,155.35 L278.58,152.00 Z" fill="#ED7D31" stroke="#333" stroke-width="0.9"/>
<path d="M321.15,168.75 L324.50,172.10 L321.15,175.45 L317.80,172.10 Z" fill="#ED7D31" stroke="#333" stroke-width="0.9"/>
<path d="M360.37,189.35 L363.72,192.70 L360.37,196.05 L357.02,192.70 Z" fill="#ED7D31" stroke="#333" stroke-width="0.9"/>
<path d="M399.59,210.45 L402.94,213.80 L399.59,217.15 L396.24,213.80 Z" fill="#ED7D31" stroke="#333" stroke-width="0.9"/>
<path d="M438.81,231.95 L442.16,235.30 L438.81,238.65 L435.46,235.30 Z" fill="#ED7D31" stroke="#333" stroke-width="0.9"/>
<path d="M478.03,253.15 L481.38,256.50 L478.03,259.85 L474.68,256.50 Z" fill="#ED7D31" stroke="#333" stroke-width="0.9"/>
<path d="M517.25,274.05 L520.60,277.40 L517.25,280.75 L513.90,277.40 Z" fill="#ED7D31" stroke="#333" stroke-width="0.9"/>
<path d="M556.47,294.55 L559.82,297.90 L556.47,301.25 L553.12,297.90 Z" fill="#ED7D31" stroke="#333" stroke-width="0.9"/>
<path d="M595.69,314.75 L599.04,318.10 L595.69,321.45 L592.34,318.10 Z" fill="#ED7D31" stroke="#333" stroke-width="0.9"/>
<path d="M634.91,334.05 L638.26,337.40 L634.91,340.75 L631.56,337.40 Z" fill="#ED7D31" stroke="#333" stroke-width="0.9"/>
<path d="M674.13,352.55 L677.48,355.90 L674.13,359.25 L670.78,355.90 Z" fill="#ED7D31" stroke="#333" stroke-width="0.9"/>
<path d="M713.35,370.95 L716.70,374.30 L713.35,377.65 L710.00,374.30 Z" fill="#ED7D31" stroke="#333" stroke-width="0.9"/>
<path d="M27.00,83.45 L30.35,86.80 L27.00,90.15 L23.65,86.80 Z" fill="#A5A5A5" stroke="#333" stroke-width="0.9"/>
<path d="M30.92,84.15 L34.27,87.50 L30.92,90.85 L27.57,87.50 Z" fill="#A5A5A5" stroke="#333" stroke-width="0.9"/>
<path d="M34.84,84.75 L38.19,88.10 L34.84,91.45 L31.49,88.10 Z" fill="#A5A5A5" stroke="#333" stroke-width="0.9"/>
<path d="M38.77,85.65 L42.12,89.00 L38.77,92.35 L35.42,89.00 Z" fill="#A5A5A5" stroke="#333" stroke-width="0.9"/>
<path d="M42.69,86.65 L46.04,90.00 L42.69,93.35 L39.34,90.00 Z" fill="#A5A5A5" stroke="#333" stroke-width="0.9"/>
<path d="M46.61,89.75 L49.96,93.10 L46.61,96.45 L43.26,93.10 Z" fill="#A5A5A5" stroke="#333" stroke-width="0.9"/>
<path d="M85.83,89.85 L89.18,93.20 L85.83,96.55 L82.48,93.20 Z" fill="#A5A5A5" stroke="#333" stroke-width="0.9"/>
<path d="M125.05,96.65 L128.40,100.00 L125.05,103.35 L121.70,100.00 Z" fill="#A5A5A5" stroke="#333" stroke-width="0.9"/>
<path d="M164.27,112.85 L167.62,116.20 L164.27,119.55 L160.92,116.20 Z" fill="#A5A5A5" stroke="#333" stroke-width="0.9"/>
<path d="M203.49,125.75 L206.84,129.10 L203.49,132.45 L200.14,129.10 Z" fill="#A5A5A5" stroke="#333" stroke-width="0.9"/>
<path d="M242.71,143.15 L246.06,146.50 L242.71,149.85 L239.36,146.50 Z" fill="#A5A5A5" stroke="#333" stroke-width="0.9"/>
<path d="M281.93,161.15 L285.28,164.50 L281.93,167.85 L278.58,164.50 Z" fill="#A5A5A5" stroke="#333" stroke-width="0.9"/>
<path d="M321.15,180.35 L324.50,183.70 L321.15,187.05 L317.80,183.70 Z" fill="#A5A5A5" stroke="#333" stroke-width="0.9"/>
<path d="M360.37,200.75 L363.72,204.10 L360.37,207.45 L357.02,204.10 Z" fill="#A5A5A5" stroke="#333" stroke-width="0.9"/>
<path d="M399.59,220.85 L402.94,224.20 L399.59,227.55 L396.24,224.20 Z" fill="#A5A5A5" stroke="#333" stroke-width="0.9"/>
<path d="M438.81,241.25 L442.16,244.60 L438.81,247.95 L435.46,244.60 Z" fill="#A5A5A5" stroke="#333" stroke-width="0.9"/>
<path d="M478.03,261.85 L481.38,265.20 L478.03,268.55 L474.68,265.20 Z" fill="#A5A5A5" stroke="#333" stroke-width="0.9"/>
<path d="M517.25,281.65 L520.60,285.00 L517.25,288.35 L513.90,285.00 Z" fill="#A5A5A5" stroke="#333" stroke-width="0.9"/>
<path d="M556.47,301.45 L559.82,304.80 L556.47,308.15 L553.12,304.80 Z" fill="#A5A5A5" stroke="#333" stroke-width="0.9"/>
<path d="M595.69,320.85 L599.04,324.20 L595.69,327.55 L592.34,324.20 Z" fill="#A5A5A5" stroke="#333" stroke-width="0.9"/>
<path d="M634.91,339.25 L638.26,342.60 L634.91,345.95 L631.56,342.60 Z" fill="#A5A5A5" stroke="#333" stroke-width="0.9"/>
<path d="M674.13,357.15 L677.48,360.50 L674.13,363.85 L670.78,360.50 Z" fill="#A5A5A5" stroke="#333" stroke-width="0.9"/>
<path d="M713.35,374.35 L716.70,377.70 L713.35,381.05 L710.00,377.70 Z" fill="#A5A5A5" stroke="#333" stroke-width="0.9"/>
<path d="M27.00,119.05 L30.35,122.40 L27.00,125.75 L23.65,122.40 Z" fill="#FFC000" stroke="#333" stroke-width="0.9"/>
<path d="M30.92,119.75 L34.27,123.10 L30.92,126.45 L27.57,123.10 Z" fill="#FFC000" stroke="#333" stroke-width="0.9"/>
<path d="M34.84,120.55 L38.19,123.90 L34.84,127.25 L31.49,123.90 Z" fill="#FFC000" stroke="#333" stroke-width="0.9"/>
<path d="M38.77,121.75 L42.12,125.10 L38.77,128.45 L35.42,125.10 Z" fill="#FFC000" stroke="#333" stroke-width="0.9"/>
<path d="M42.69,123.05 L46.04,126.40 L42.69,129.75 L39.34,126.40 Z" fill="#FFC000" stroke="#333" stroke-width="0.9"/>
<path d="M46.61,125.85 L49.96,129.20 L46.61,132.55 L43.26,129.20 Z" fill="#FFC000" stroke="#333" stroke-width="0.9"/>
<path d="M85.83,122.75 L89.18,126.10 L85.83,129.45 L82.48,126.10 Z" fill="#FFC000" stroke="#333" stroke-width="0.9"/>
<path d="M125.05,127.85 L128.40,131.20 L125.05,134.55 L121.70,131.20 Z" fill="#FFC000" stroke="#333" stroke-width="0.9"/>
<path d="M164.27,144.65 L167.62,148.00 L164.27,151.35 L160.92,148.00 Z" fill="#FFC000" stroke="#333" stroke-width="0.9"/>
<path d="M203.49,156.45 L206.84,159.80 L203.49,163.15 L200.14,159.80 Z" fill="#FFC000" stroke="#333" stroke-width="0.9"/>
<path d="M242.71,173.35 L246.06,176.70 L242.71,180.05 L239.36,176.70 Z" fill="#FFC000" stroke="#333" stroke-width="0.9"/>
<path d="M281.93,190.25 L285.28,193.60 L281.93,196.95 L278.58,193.60 Z" fill="#FFC000" stroke="#333" stroke-width="0.9"/>
<path d="M321.15,208.15 L324.50,211.50 L321.15,214.85 L317.80,211.50 Z" fill="#FFC000" stroke="#333" stroke-width="0.9"/>
<path d="M360.37,226.85 L363.72,230.20 L360.37,233.55 L357.02,230.20 Z" fill="#FFC000" stroke="#333" stroke-width="0.9"/>
<path d="M399.59,245.25 L402.94,248.60 L399.59,251.95 L396.24,248.60 Z" fill="#FFC000" stroke="#333" stroke-width="0.9"/>
<path d="M438.81,264.05 L442.16,267.40 L438.81,270.75 L435.46,267.40 Z" fill="#FFC000" stroke="#333" stroke-width="0.9"/>
<path d="M478.03,282.05 L481.38,285.40 L478.03,288.75 L474.68,285.40 Z" fill="#FFC000" stroke="#333" stroke-width="0.9"/>
<path d="M517.25,299.65 L520.60,303.00 L517.25,306.35 L513.90,303.00 Z" fill="#FFC000" stroke="#333" stroke-width="0.9"/>
<path d="M556.47,317.25 L559.82,320.60 L556.47,323.95 L553.12,320.60 Z" fill="#FFC000" stroke="#333" stroke-width="0.9"/>
<path d="M595.69,334.65 L599.04,338.00 L595.69,341.35 L592.34,338.00 Z" fill="#FFC000" stroke="#333" stroke-width="0.9"/>
<path d="M634.91,351.05 L638.26,354.40 L634.91,357.75 L631.56,354.40 Z" fill="#FFC000" stroke="#333" stroke-width="0.9"/>
<path d="M674.13,367.35 L677.48,370.70 L674.13,374.05 L670.78,370.70 Z" fill="#FFC000" stroke="#333" stroke-width="0.9"/>
<path d="M713.35,382.75 L716.70,386.10 L713.35,389.45 L710.00,386.10 Z" fill="#FFC000" stroke="#333" stroke-width="0.9"/>
<path d="M27.00,183.75 L30.35,187.10 L27.00,190.45 L23.65,187.10 Z" fill="#70AD47" stroke="#333" stroke-width="0.9"/>
<path d="M30.92,184.45 L34.27,187.80 L30.92,191.15 L27.57,187.80 Z" fill="#70AD47" stroke="#333" stroke-width="0.9"/>
<path d="M34.84,184.85 L38.19,188.20 L34.84,191.55 L31.49,188.20 Z" fill="#70AD47" stroke="#333" stroke-width="0.9"/>
<path d="M38.77,185.35 L42.12,188.70 L38.77,192.05 L35.42,188.70 Z" fill="#70AD47" stroke="#333" stroke-width="0.9"/>
<path d="M42.69,186.25 L46.04,189.60 L42.69,192.95 L39.34,189.60 Z" fill="#70AD47" stroke="#333" stroke-width="0.9"/>
<path d="M46.61,209.55 L49.96,212.90 L46.61,216.25 L43.26,212.90 Z" fill="#70AD47" stroke="#333" stroke-width="0.9"/>
<path d="M85.83,178.55 L89.18,181.90 L85.83,185.25 L82.48,181.90 Z" fill="#70AD47" stroke="#333" stroke-width="0.9"/>
<path d="M125.05,178.55 L128.40,181.90 L125.05,185.25 L121.70,181.90 Z" fill="#70AD47" stroke="#333" stroke-width="0.9"/>
<path d="M164.27,195.25 L167.62,198.60 L164.27,201.95 L160.92,198.60 Z" fill="#70AD47" stroke="#333" stroke-width="0.9"/>
<path d="M203.49,204.85 L206.84,208.20 L203.49,211.55 L200.14,208.20 Z" fill="#70AD47" stroke="#333" stroke-width="0.9"/>
<path d="M242.71,219.65 L246.06,223.00 L242.71,226.35 L239.36,223.00 Z" fill="#70AD47" stroke="#333" stroke-width="0.9"/>
<path d="M281.93,234.85 L285.28,238.20 L281.93,241.55 L278.58,238.20 Z" fill="#70AD47" stroke="#333" stroke-width="0.9"/>
<path d="M321.15,250.35 L324.50,253.70 L321.15,257.05 L317.80,253.70 Z" fill="#70AD47" stroke="#333" stroke-width="0.9"/>
<path d="M360.37,266.35 L363.72,269.70 L360.37,273.05 L357.02,269.70 Z" fill="#70AD47" stroke="#333" stroke-width="0.9"/>
<path d="M399.59,282.65 L402.94,286.00 L399.59,289.35 L396.24,286.00 Z" fill="#70AD47" stroke="#333" stroke-width="0.9"/>
<path d="M438.81,298.45 L442.16,301.80 L438.81,305.15 L435.46,301.80 Z" fill="#70AD47" stroke="#333" stroke-width="0.9"/>
<path d="M478.03,313.95 L481.38,317.30 L478.03,320.65 L474.68,317.30 Z" fill="#70AD47" stroke="#333" stroke-width="0.9"/>
<path d="M517.25,329.05 L520.60,332.40 L517.25,335.75 L513.90,332.40 Z" fill="#70AD47" stroke="#333" stroke-width="0.9"/>
<path d="M556.47,344.15 L559.82,347.50 L556.47,350.85 L553.12,347.50 Z" fill="#70AD47" stroke="#333" stroke-width="0.9"/>
<path d="M595.69,358.45 L599.04,361.80 L595.69,365.15 L592.34,361.80 Z" fill="#70AD47" stroke="#333" stroke-width="0.9"/>
<path d="M634.91,372.55 L638.26,375.90 L634.91,379.25 L631.56,375.90 Z" fill="#70AD47" stroke="#333" stroke-width="0.9"/>
<path d="M674.13,386.25 L677.48,389.60 L674.13,392.95 L670.78,389.60 Z" fill="#70AD47" stroke="#333" stroke-width="0.9"/>
<path d="M713.35,400.15 L716.70,403.50 L713.35,406.85 L710.00,403.50 Z" fill="#70AD47" stroke="#333" stroke-width="0.9"/>
<rect x="485.5" y="35.5" width="226.70000000000005" height="194.0" fill="#fff" stroke="#858585" stroke-width="1"/>
<text x="549.5" y="47.90" class="t">0.154M capacitive model CST</text>
<line x1="523.5" y1="43.70" x2="545" y2="43.70" stroke="#ED7D31" stroke-width="1.4"/>
<text x="549.5" y="63.74" class="t">0.25M capacitive model CST</text>
<line x1="523.5" y1="59.54" x2="545" y2="59.54" stroke="#A5A5A5" stroke-width="1.4"/>
<text x="549.5" y="79.58" class="t">0.5M capacitive model CST</text>
<line x1="523.5" y1="75.38" x2="545" y2="75.38" stroke="#FFC000" stroke-width="1.4"/>
<text x="549.5" y="95.42" class="t">1M capacitive model CST</text>
<line x1="523.5" y1="91.22" x2="545" y2="91.22" stroke="#70AD47" stroke-width="1.4"/>
<text x="549.5" y="111.26" class="t">0.154M capacitive model FEKO</text>
<path d="M534.40,105.61 L537.55,108.76 L534.40,111.91 L531.25,108.76 Z" fill="#ED7D31" stroke="#333" stroke-width="0.9"/>
<text x="549.5" y="127.10" class="t">0.25M capacitive model FEKO</text>
<path d="M534.40,121.45 L537.55,124.60 L534.40,127.75 L531.25,124.60 Z" fill="#A5A5A5" stroke="#333" stroke-width="0.9"/>
<text x="549.5" y="142.94" class="t">0.5M capacitive model FEKO</text>
<path d="M534.40,137.29 L537.55,140.44 L534.40,143.59 L531.25,140.44 Z" fill="#FFC000" stroke="#333" stroke-width="0.9"/>
<text x="549.5" y="158.78" class="t">1M capacitive model FEKO</text>
<path d="M534.40,153.13 L537.55,156.28 L534.40,159.43 L531.25,156.28 Z" fill="#70AD47" stroke="#333" stroke-width="0.9"/>
<text x="549.5" y="174.62" class="t">0.154M dispersion</text>
<line x1="523.5" y1="174.12" x2="545" y2="174.12" stroke="#1A1A1A" stroke-dasharray="1.6,1.2" stroke-width="1.6"/>
<text x="549.5" y="190.46" class="t">0.25M dispersion</text>
<line x1="523.5" y1="189.96" x2="545" y2="189.96" stroke="#1A1A1A" stroke-dasharray="4.6,3.8" stroke-width="1.6"/>
<text x="549.5" y="206.30" class="t">0.5M dispersion</text>
<line x1="523.5" y1="205.80" x2="545" y2="205.80" stroke="#1A1A1A" stroke-dasharray="9.5,4.5" stroke-width="1.8"/>
<text x="549.5" y="222.14" class="t">1M dispersion</text>
<line x1="523.5" y1="221.64" x2="545" y2="221.64" stroke="#1A1A1A" stroke-width="1.8"/>
<text x="17.0" y="39.60" class="t" text-anchor="end">80</text>
<text x="17.0" y="86.85" class="t" text-anchor="end">75</text>
<text x="17.0" y="134.10" class="t" text-anchor="end">70</text>
<text x="17.0" y="181.35" class="t" text-anchor="end">65</text>
<text x="17.0" y="228.60" class="t" text-anchor="end">60</text>
<text x="17.0" y="275.85" class="t" text-anchor="end">55</text>
<text x="17.0" y="323.10" class="t" text-anchor="end">50</text>
<text x="17.0" y="370.35" class="t" text-anchor="end">45</text>
<text x="17.0" y="417.60" class="t" text-anchor="end">40</text>
<text x="27.00" y="431.2" class="t" text-anchor="middle">0.5</text>
<text x="66.22" y="431.2" class="t" text-anchor="middle">1.5</text>
<text x="105.44" y="431.2" class="t" text-anchor="middle">2.5</text>
<text x="144.66" y="431.2" class="t" text-anchor="middle">3.5</text>
<text x="183.88" y="431.2" class="t" text-anchor="middle">4.5</text>
<text x="223.10" y="431.2" class="t" text-anchor="middle">5.5</text>
<text x="262.32" y="431.2" class="t" text-anchor="middle">6.5</text>
<text x="301.54" y="431.2" class="t" text-anchor="middle">7.5</text>
<text x="340.76" y="431.2" class="t" text-anchor="middle">8.5</text>
<text x="379.98" y="431.2" class="t" text-anchor="middle">9.5</text>
<text x="419.20" y="431.2" class="t" text-anchor="middle">10.5</text>
<text x="458.42" y="431.2" class="t" text-anchor="middle">11.5</text>
<text x="497.64" y="431.2" class="t" text-anchor="middle">12.5</text>
<text x="536.86" y="431.2" class="t" text-anchor="middle">13.5</text>
<text x="576.08" y="431.2" class="t" text-anchor="middle">14.5</text>
<text x="615.30" y="431.2" class="t" text-anchor="middle">15.5</text>
<text x="654.52" y="431.2" class="t" text-anchor="middle">16.5</text>
<text x="693.74" y="431.2" class="t" text-anchor="middle">17.5</text>
<text x="340.5" y="447.5" class="t" font-style="italic">f</text><text x="347.6" y="447.5" class="t">(GHz)</text>
<text x="0" y="0" class="t" transform="translate(9.0,19.1) skewX(-7)" style="font-size:15px;font-style:italic">ε</text>
<text x="15.4" y="19.8" class="t" style="font-size:16px;font-style:italic">′</text>
<text x="18.6" y="21.7" class="t" style="font-size:10px">r</text>
</svg>
</body></html>
